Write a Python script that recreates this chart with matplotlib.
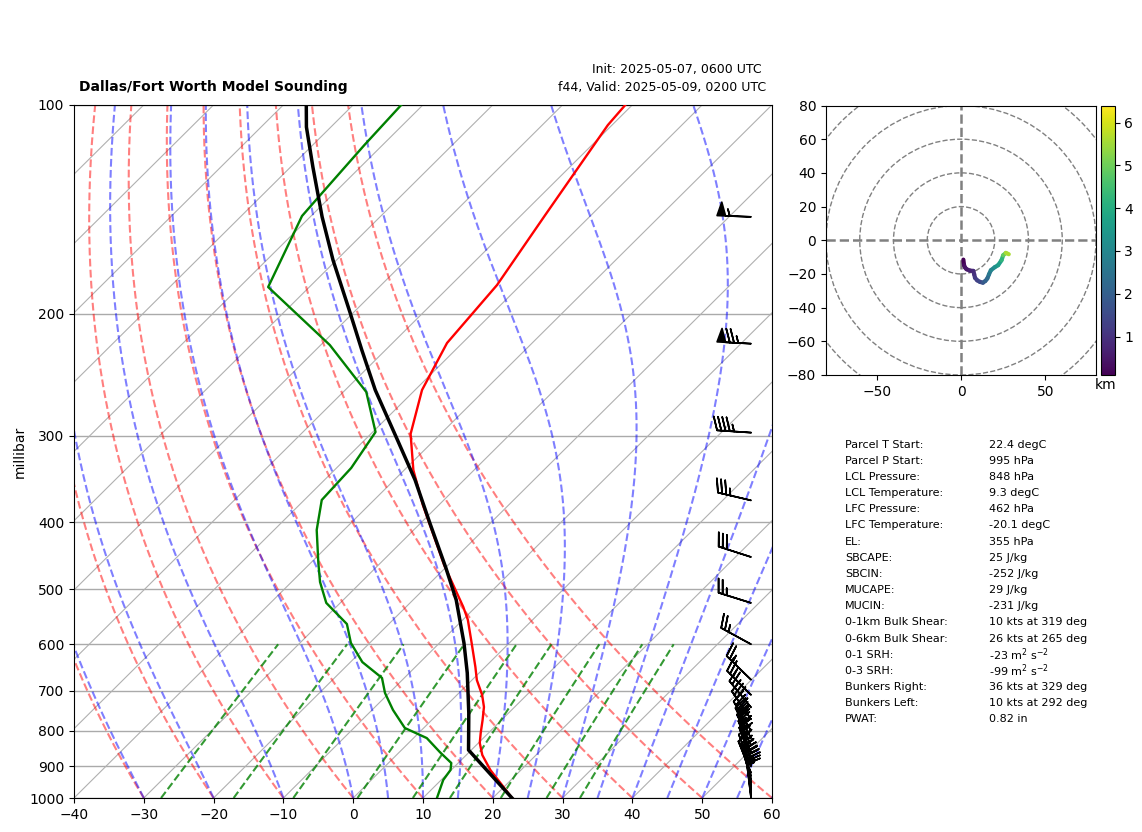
import numpy as np
import matplotlib
matplotlib.use("Agg")
import matplotlib.pyplot as plt
from matplotlib.collections import LineCollection
from matplotlib.patches import Circle
from matplotlib.transforms import Affine2D

# sounding values
temp_p = [100, 106.9, 144.1, 181.9, 220.5, 257.8, 298.3, 336.3, 377.7, 461, 530, 553, 597.4, 647,
          675.8, 710, 739, 772, 806, 833, 867, 911, 951, 1000]
temp_c = [-61.0, -60.6, -56.6, -53.4, -52.2, -49.0, -44.3, -38.7, -32.3, -20.6, -11.8, -9.3, -5.4, -1.4,
          0.7, 3.6, 5.6, 7.3, 8.9, 10.2, 12.3, 15.6, 18.9, 22.75]
dew_p = [100, 114.2, 134.9, 144.6, 183.1, 222, 259.5, 296.4, 334, 371.5, 410.4, 458, 488, 523, 561,
         597.4, 636.6, 671, 705.4, 746.4, 792.5, 819.5, 858.6, 890.2, 911, 942, 1000]
dew_c = [-93.1, -92.6, -91.7, -91.3, -85.9, -68.7, -56.7, -49.6, -47.9, -47.5, -43.9, -38.9, -35.9, -32.0, -26.0,
         -22.7, -18.3, -13.2, -10.6, -7.0, -2.7, 1.9, 5.8, 9.0, 9.9, 10.3, 12.0]
parcel_p = [100, 107.6, 122.9, 145, 167.4, 199.6, 225.7, 257.8, 304.4, 347.7, 401, 465.7, 518, 597.4,
            660, 754, 852.6, 1000]
parcel_c = [-106.7, -103.5, -96.8, -88.3, -80.5, -70.4, -63.4, -55.7, -45.3, -37.0, -28.7, -19.9, -13.8, -6.5,
            -1.7, 4.3, 9.6, 22.75]

barb_p = [145, 221, 297, 372, 449, 523, 600, 675, 710, 740, 770, 800, 820, 840, 860, 880, 900, 920, 930, 940,
          950, 960, 970, 980, 990, 1000]
barb_u = [55, 75, 45, 34, 28.6, 24, 22, 18, 17.7, 16.6, 15.6, 14.4, 13, 11.2, 9.6, 8.3, 7.8, 7.3, 6, 5.2,
          4, 3.3, 2.4, 1.8, 1.6, 1.4]
barb_v = [-2, -4, -3, -8, -9.2, -7.5, -12, -17.5, -17.8, -20.2, -22.7, -24.2, -25.2, -24.7, -23.8, -22.3, -20.2,
          -18.2, -18, -18, -17.6, -17.2, -16, -14.8, -13, -11.5]

hodo_u = [1.4, 1.8, 2.4, 3.3, 5.2, 7.3, 7.8, 8.3, 9.6, 11.2, 13, 14.4, 15.6, 16.6, 17.7, 20, 22, 24, 25, 26.6, 28.3]
hodo_v = [-11.5, -14.8, -16.2, -17.2, -18, -18.2, -20.2, -22.3, -23.8, -24.7, -25.2, -24.2, -22.7, -20.2, -17.8,
          -16, -14.8, -11.9, -8.9, -7.5, -8.3]
hodo_z = [0.1, 0.3, 0.4, 0.5, 0.7, 0.85, 1.0, 1.2, 1.35, 1.5, 1.8, 2.05, 2.3, 2.65, 3.0, 3.3, 3.6, 4.2, 4.9, 5.6, 6.4]

stat_names = ["Parcel T Start:", "Parcel P Start:", "LCL Pressure:", "LCL Temperature:", "LFC Pressure:",
              "LFC Temperature:", "EL:", "SBCAPE:", "SBCIN:", "MUCAPE:", "MUCIN:", "0-1km Bulk Shear:",
              "0-6km Bulk Shear:", "0-1 SRH:", "0-3 SRH:", "Bunkers Right:", "Bunkers Left:", "PWAT:"]
stat_values = ["22.4 degC", "995 hPa", "848 hPa", "9.3 degC", "462 hPa", "-20.1 degC", "355 hPa", "25 J/kg",
               "-252 J/kg", "29 J/kg", "-231 J/kg", "10 kts at 319 deg", "26 kts at 265 deg",
               r"-23 m$^2$ s$^{-2}$", r"-99 m$^2$ s$^{-2}$", "36 kts at 329 deg", "10 kts at 292 deg", "0.82 in"]

isotherms = np.arange(-160, 61, 10)
dry_t0 = np.arange(-30, 61, 10)
moist_t0 = [-30, -20, -10, 0, 5, 10, 15, 20, 25, 30, 35, 40, 45, 50, 55, 60]
mix_w = [0.0004, 0.001, 0.002, 0.004, 0.007, 0.01, 0.016, 0.024, 0.032]

W, H = 1142, 832


def place(left, top, right, bottom):
    return [left / W, (H - bottom) / H, (right - left) / W, (bottom - top) / H]


def sat_vap(t_c):
    return 6.112 * np.exp(17.67 * t_c / (t_c + 243.5))


def moist_adiabat(t0, pres):
    # integrate the saturated lapse rate upward from 1000 hPa
    out = [t0 + 273.15]
    for i in range(1, len(pres)):
        t = out[-1]
        es = sat_vap(t - 273.15)
        rs = 0.622 * es / (pres[i - 1] - es)
        dtdp = (287.0 * t + 2.501e6 * rs) / (1005.0 + 2.501e6 ** 2 * rs * 0.622 / (287.0 * t ** 2)) / pres[i - 1]
        out.append(t + dtdp * (pres[i] - pres[i - 1]))
    return np.array(out) - 273.15


fig = plt.figure(figsize=(W / 100, H / 100), dpi=100)
ax = fig.add_axes(place(74, 105, 772, 798))
ax.set_yscale("log")
ax.set_ylim(1000, 100)
ax.set_xlim(-40, 60)
ax.set_yticks(range(100, 1001, 100))
ax.set_yticklabels([str(p) for p in range(100, 1001, 100)])
ax.minorticks_off()
ax.set_xticks(range(-40, 61, 10))
ax.set_ylabel("millibar", labelpad=2)
ax.grid(True, axis="y", color="#aaaaaa", lw=1)
ax.set_axisbelow(True)

# skew the temperature lines in display space, 100 degC per pressure decade
y0 = ax.transAxes.transform((0, 0))[1]
skew = ax.transData + Affine2D().translate(0, -y0).skew_deg(45.2, 0).translate(0, y0)

pres = np.linspace(1000, 100, 400)
for t in isotherms:
    ax.plot([t, t], [1000, 100], color="#b0b0b0", lw=0.8, transform=skew, zorder=1)
for t in dry_t0:
    ax.plot((t + 273.15) * (pres / 1000) ** 0.286 - 273.15, pres, color="r", ls="--", lw=1.5, alpha=0.5,
            transform=skew, zorder=2)
for t in moist_t0:
    ax.plot(moist_adiabat(t, pres), pres, color="b", ls="--", lw=1.5, alpha=0.5, transform=skew, zorder=2)
mix_p = np.linspace(1000, 600, 50)
for w in mix_w:
    e = mix_p * w / (0.622 + w)
    ln = np.log(e / 6.112)
    ax.plot(243.5 * ln / (17.67 - ln), mix_p, color="g", ls="--", lw=1.5, alpha=0.8, transform=skew, zorder=2)

ax.plot(temp_c, temp_p, color="r", lw=1.7, transform=skew, zorder=4)
ax.plot(dew_c, dew_p, color="g", lw=1.7, transform=skew, zorder=4)
ax.plot(parcel_c, parcel_p, color="k", lw=2.5, transform=skew, zorder=5)

ax.barbs(np.full(len(barb_p), 0.97), barb_p, barb_u, barb_v, length=7, lw=1.2,
         transform=ax.get_yaxis_transform(), zorder=6)

# hodograph
hax = fig.add_axes(place(826, 105.5, 1096, 375))
for r in [20, 40, 60, 80, 100]:
    hax.add_patch(Circle((0, 0), r, fill=False, ec="gray", ls="--", lw=1))
hax.axhline(0, color="gray", ls="--", lw=1.8)
hax.axvline(0, color="gray", ls="--", lw=1.8)
pts = np.column_stack([hodo_u, hodo_v]).reshape(-1, 1, 2)
segs = np.concatenate([pts[:-1], pts[1:]], axis=1)
lc = LineCollection(segs, cmap="viridis", lw=3, capstyle="round")
lc.set_array(np.array(hodo_z[:-1]))
lc.set_clim(min(hodo_z), max(hodo_z))
hax.add_collection(lc)
hax.set_xlim(-80, 80)
hax.set_ylim(-80, 80)
hax.set_xticks([-50, 0, 50])
hax.set_yticks(range(-80, 81, 20))

cax = fig.add_axes(place(1101, 105.5, 1114.5, 375))
cb = fig.colorbar(lc, cax=cax)
cb.set_ticks([1, 2, 3, 4, 5, 6])
fig.text(1106 / W, 1 - 385 / H, "km", ha="center", va="center", fontsize=10)

# titles
fig.text(79 / W, 1 - 87.5 / H, "Dallas/Fort Worth Model Sounding", fontweight="bold", fontsize=10, va="center")
fig.text(762 / W, 1 - 70 / H, "Init: 2025-05-07, 0600 UTC", ha="right", va="center", fontsize=9)
fig.text(766 / W, 1 - 88 / H, "f44, Valid: 2025-05-09, 0200 UTC", ha="right", va="center", fontsize=9)

# parcel table
for i, (name, val) in enumerate(zip(stat_names, stat_values)):
    y = 1 - (444.5 + 16.17 * i) / H
    fig.text(845 / W, y, name, fontsize=8, va="center")
    fig.text(989 / W, y, val, fontsize=8, va="center")

fig.savefig("out.png", dpi=100)
